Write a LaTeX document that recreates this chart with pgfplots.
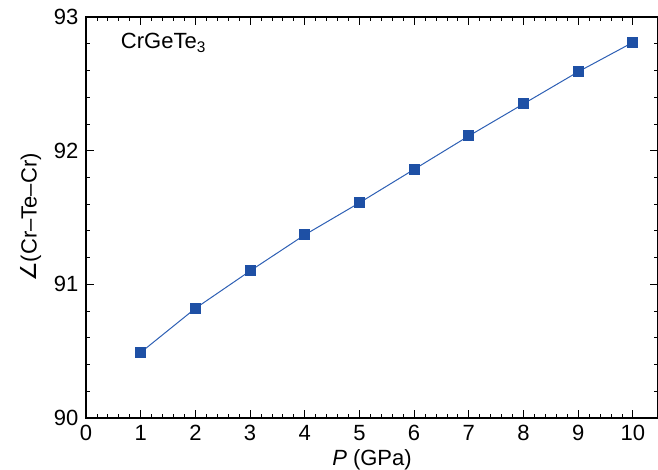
\documentclass[border=0pt]{standalone}
\usepackage{fontspec}
\setmainfont{Liberation Sans}
\newfontfamily\dejavu{DejaVu Sans}
\usepackage{pgfplots}
\pgfplotsset{compat=1.18}
\definecolor{mk}{RGB}{30,80,165}
\definecolor{ln}{RGB}{45,95,180}
\begin{document}
\fontsize{22}{26}\selectfont
\begin{tikzpicture}
\useasboundingbox (-86pt,-52pt) rectangle (572pt,418pt);
\begin{axis}[
  scale only axis,
  width=572pt, height=401pt,
  xmin=0, xmax=10.46, ymin=90, ymax=93,
  xtick={0,1,...,10}, ytick={90,91,92,93},
  minor x tick num=4, minor y tick num=4,
  tick align=inside,
  major tick length=8pt, minor tick length=4pt,
  every tick/.style={black, line width=0.8pt},
  axis line style={line width=1.6pt},
  /pgf/number format/assume math mode=true,
  tick label style={font=\fontsize{22}{26}\selectfont},
  label style={font=\fontsize{22}{26}\selectfont},
  xlabel={\textit{P} (GPa)},
  ylabel={{\dejavu ∠}(Cr–Te–Cr)},
  xlabel style={yshift=6pt},
  ylabel style={yshift=-2pt},
  clip=false,
]
\addplot[color=ln, line width=1pt, mark=square*, mark size=5pt,
  mark options={fill=mk, draw=mk, line width=0pt}] coordinates {
  (1,90.49) (2,90.82) (3,91.10) (4,91.37) (5,91.61)
  (6,91.86) (7,92.11) (8,92.35) (9,92.59) (10,92.81)
};
\node[anchor=west, font=\fontsize{22}{26}\selectfont] at (rel axis cs:0.048,0.935) {CrGeTe\textsubscript{3}};
\end{axis}
\end{tikzpicture}
\end{document}
